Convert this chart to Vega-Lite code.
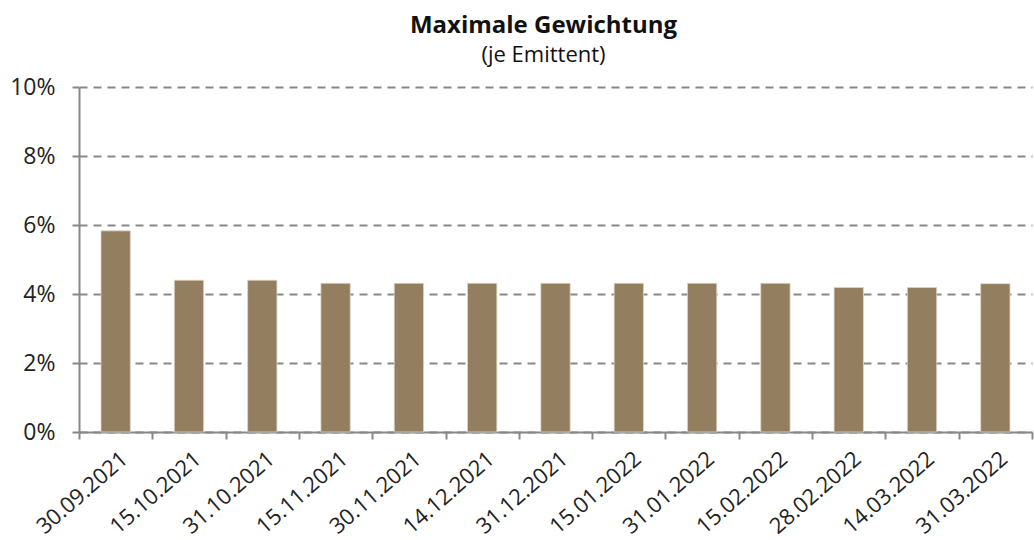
{
  "$schema": "https://vega.github.io/schema/vega-lite/v6.json",
  "width": 953,
  "height": 345,
  "padding": {"left": 9, "top": 14, "right": 2, "bottom": 0},
  "background": "white",
  "config": {
    "font": "Open Sans",
    "view": {"stroke": null}
  },
  "title": {
    "text": "Maximale Gewichtung",
    "subtitle": "(je Emittent)",
    "anchor": "middle",
    "frame": "group",
    "dx": -12,
    "fontSize": 24,
    "fontWeight": "bold",
    "color": "#111111",
    "subtitleFontSize": 22,
    "subtitleColor": "#111111",
    "subtitlePadding": 7,
    "offset": 10
  },
  "data": {
    "values": [
      {"datum": "30.09.2021", "gewicht": 0.0583},
      {"datum": "15.10.2021", "gewicht": 0.0440},
      {"datum": "31.10.2021", "gewicht": 0.0440},
      {"datum": "15.11.2021", "gewicht": 0.0431},
      {"datum": "30.11.2021", "gewicht": 0.0431},
      {"datum": "14.12.2021", "gewicht": 0.0431},
      {"datum": "31.12.2021", "gewicht": 0.0431},
      {"datum": "15.01.2022", "gewicht": 0.0431},
      {"datum": "31.01.2022", "gewicht": 0.0431},
      {"datum": "15.02.2022", "gewicht": 0.0431},
      {"datum": "28.02.2022", "gewicht": 0.0419},
      {"datum": "14.03.2022", "gewicht": 0.0419},
      {"datum": "31.03.2022", "gewicht": 0.0430}
    ]
  },
  "mark": {"type": "bar", "color": "#937f60", "stroke": "#ddd5c5", "strokeWidth": 0.8, "width": {"band": 0.4}},
  "encoding": {
    "x": {
      "field": "datum",
      "type": "nominal",
      "sort": null,
      "scale": {"paddingInner": 0, "paddingOuter": 0},
      "axis": {
        "title": null,
        "labelAngle": -41,
        "labelFontSize": 22,
        "labelColor": "#222222",
        "labelPadding": 9,
        "labelAlign": "right",
        "labelBaseline": "top",
        "labelOffset": 2,
        "tickBand": "extent",
        "domainColor": "#888888",
        "domainWidth": 2,
        "tickColor": "#888888",
        "tickWidth": 2,
        "tickSize": 7,
        "grid": false
      }
    },
    "y": {
      "field": "gewicht",
      "type": "quantitative",
      "scale": {"domain": [0, 0.1]},
      "axis": {
        "title": null,
        "format": ".0%",
        "values": [0, 0.02, 0.04, 0.06, 0.08, 0.1],
        "labelFontSize": 23,
        "labelColor": "#222222",
        "labelPadding": 17,
        "domainColor": "#888888",
        "domainWidth": 2,
        "tickColor": "#888888",
        "tickWidth": 2,
        "tickSize": 7,
        "grid": true,
        "gridColor": "#888888",
        "gridWidth": 2,
        "gridDash": [8, 6]
      }
    }
  }
}
